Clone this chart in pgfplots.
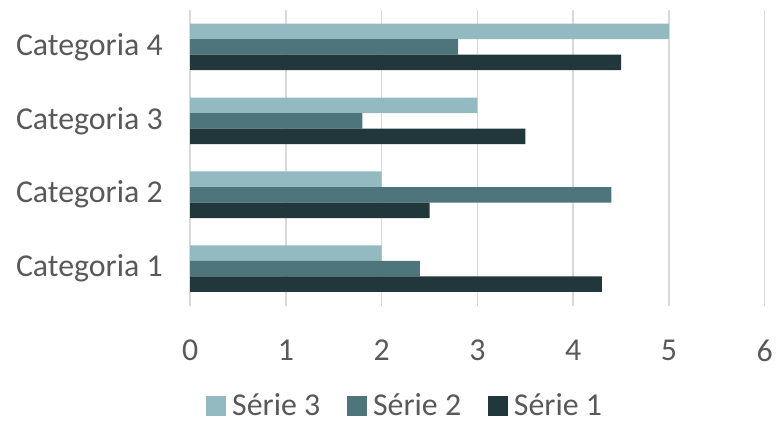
\documentclass[border=0pt]{standalone}
\usepackage{pgfplots}
\pgfplotsset{compat=1.18}
\usepackage{fontspec}
\setmainfont{Carlito}
\definecolor{serA}{HTML}{22373C}
\definecolor{serB}{HTML}{4E757B}
\definecolor{serC}{HTML}{93BAC1}
\definecolor{txt}{HTML}{595959}
\definecolor{grd}{HTML}{D9D9D9}
\begin{document}
\begin{tikzpicture}
\begin{axis}[
    scale only axis,
    width=577pt, height=297pt,
    xbar, bar width=0.21,
    xmin=0, xmax=6, ymin=0.5, ymax=4.5,
    xtick={0,1,...,6},
    ytick={1,2,3,4},
    yticklabels={Categoria 1,Categoria 2,Categoria 3,Categoria 4},
    /pgf/number format/assume math mode=true,
    ticklabel style={font=\fontsize{32}{36}\selectfont, text=txt},
    xticklabel style={yshift=-31pt},
    yticklabel style={xshift=-24pt},
    major tick length=0pt,
    axis line style={draw=none},
    xmajorgrids, major grid style={grd, line width=1.6pt},
    legend style={at={(0.3726,-0.338)}, anchor=center, draw=none, inner sep=0pt,
        font=\fontsize{32}{36}\selectfont, text=txt, legend columns=3,
        nodes={inner sep=0pt},
        /tikz/every odd column/.append style={column sep=6pt},
        /tikz/every even column/.append style={column sep=27pt}},
    legend image code/.code={\fill[#1] (0pt,-10pt) rectangle (20pt,10pt);},
]
\addplot[fill=serC, draw=none, bar shift=0.21] coordinates {(2,1) (2,2) (3,3) (5,4)};
\addlegendentry{Série 3}
\addplot[fill=serB, draw=none, bar shift=0] coordinates {(2.4,1) (4.4,2) (1.8,3) (2.8,4)};
\addlegendentry{Série 2}
\addplot[fill=serA, draw=none, bar shift=-0.21] coordinates {(4.3,1) (2.5,2) (3.5,3) (4.5,4)};
\addlegendentry{Série 1}
\end{axis}
\path (-191pt,-118pt) rectangle (585pt,307pt);
\end{tikzpicture}
\end{document}
